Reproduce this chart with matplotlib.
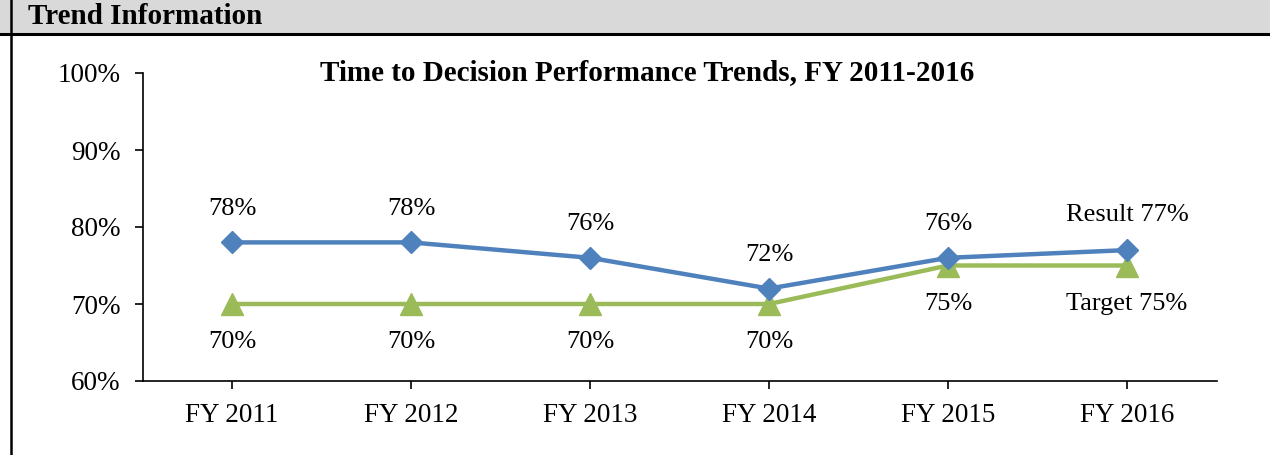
import matplotlib
matplotlib.use('Agg')
import matplotlib.pyplot as plt
from matplotlib.patches import Rectangle
from matplotlib.lines import Line2D
from matplotlib.ticker import FuncFormatter

years = ['FY 2011', 'FY 2012', 'FY 2013', 'FY 2014', 'FY 2015', 'FY 2016']
result = [78, 78, 76, 72, 76, 77]
target = [70, 70, 70, 70, 75, 75]
result_labels = ['78%', '78%', '76%', '72%', '76%', 'Result 77%']
target_labels = ['70%', '70%', '70%', '70%', '75%', 'Target 75%']

plt.rcParams['font.family'] = ['Liberation Serif', 'DejaVu Serif']

fig = plt.figure(figsize=(12.7, 4.55), dpi=100)
W, H = 1270, 455

# header band
fig.patches.append(Rectangle((0, 1 - 33 / H), 1, 33 / H, transform=fig.transFigure,
                             facecolor='#d9d9d9', edgecolor='none', zorder=0))
fig.lines.append(Line2D([0, 1], [1 - 34 / H, 1 - 34 / H], transform=fig.transFigure,
                        color='black', lw=2.2))
fig.lines.append(Line2D([11 / W, 11 / W], [0, 1], transform=fig.transFigure,
                        color='black', lw=1.8))
fig.text(28 / W, 1 - 17 / H, 'Trend Information', fontsize=21, fontweight='bold',
         va='center', ha='left')

ax = fig.add_axes([142.5 / W, 1 - 381 / H, (1216.5 - 142.5) / W, (381 - 73) / H])
x = range(len(years))
ax.plot(x, target, color='#9bbb59', lw=3.2, marker='^', markersize=16, zorder=3)
ax.plot(x, result, color='#4f81bd', lw=3.2, marker='D', markersize=11, zorder=4)

for i, (r, t) in enumerate(zip(result, target)):
    up = 25 if i == 5 else 24
    down = -28 if i >= 4 else -27
    ax.annotate(result_labels[i], (i, r), xytext=(0, up), textcoords='offset points',
                ha='center', va='center', fontsize=19)
    ax.annotate(target_labels[i], (i, t), xytext=(0, down), textcoords='offset points',
                ha='center', va='center', fontsize=19)

ax.set_xlim(-0.5, 5.5)
ax.set_ylim(60, 100)
ax.set_yticks([60, 70, 80, 90, 100])
ax.yaxis.set_major_formatter(FuncFormatter(lambda v, p: '%d%%' % v))
ax.set_xticks(list(x))
ax.set_xticklabels(years)
ax.tick_params(axis='both', labelsize=19.5, direction='out', length=6, width=1.2)
ax.tick_params(axis='y', pad=10)
ax.tick_params(axis='x', pad=10)
for s in ['top', 'right']:
    ax.spines[s].set_visible(False)
for s in ['left', 'bottom']:
    ax.spines[s].set_linewidth(1.2)

fig.text(647 / W, 1 - 73 / H, 'Time to Decision Performance Trends, FY 2011-2016',
         fontsize=21, fontweight='bold', ha='center', va='center')

plt.savefig('out.png', dpi=100)
